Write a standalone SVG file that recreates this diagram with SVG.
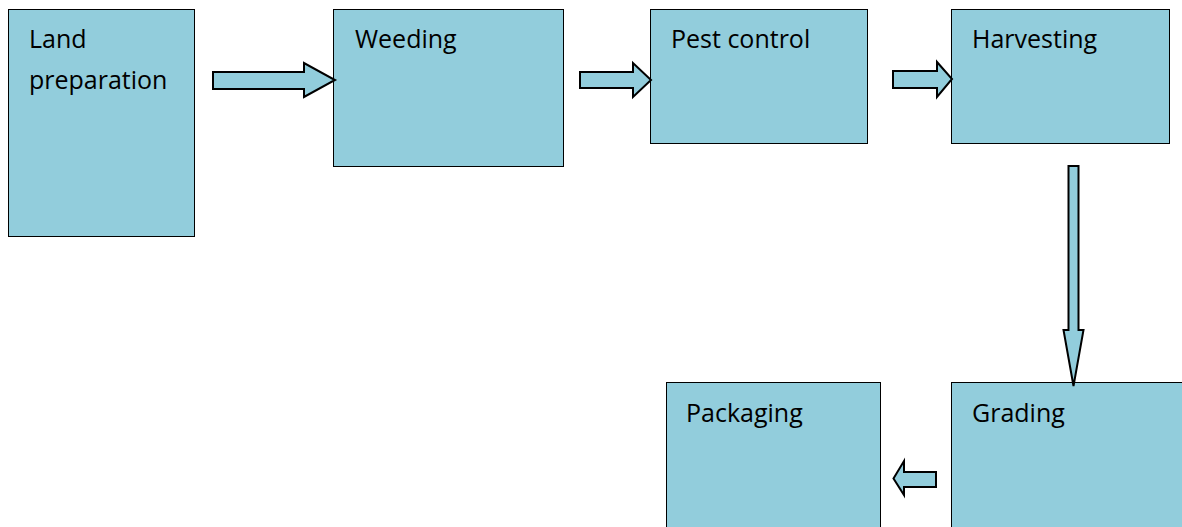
<svg xmlns="http://www.w3.org/2000/svg" width="1182" height="527" viewBox="0 0 1182 527">
  <style>
    .box { fill: #92cddc; stroke: #000; stroke-width: 1; }
    .arrow { fill: #92cddc; stroke: #000; stroke-width: 2; stroke-linejoin: miter; }
    .label { font-family: "Open Sans", "Noto Sans", sans-serif; font-size: 25px; fill: #000; }
  </style>
  <rect width="1182" height="527" fill="#fff"/>

  <!-- process steps -->
  <g id="land-preparation">
    <rect class="box" x="8.5" y="9.5" width="186" height="227"/>
    <text class="label" x="29" y="48">Land</text>
    <text class="label" x="29" y="89">preparation</text>
  </g>
  <g id="weeding">
    <rect class="box" x="333.5" y="9.5" width="230" height="157"/>
    <text class="label" x="355" y="48">Weeding</text>
  </g>
  <g id="pest-control">
    <rect class="box" x="650.5" y="9.5" width="217" height="134"/>
    <text class="label" x="671" y="48">Pest control</text>
  </g>
  <g id="harvesting">
    <rect class="box" x="951.5" y="9.5" width="218" height="134"/>
    <text class="label" x="972" y="48">Harvesting</text>
  </g>
  <g id="grading">
    <rect class="box" x="951.5" y="382.5" width="240" height="160"/>
    <text class="label" x="972" y="422">Grading</text>
  </g>
  <g id="packaging">
    <rect class="box" x="666.5" y="382.5" width="214" height="160"/>
    <text class="label" x="686" y="422">Packaging</text>
  </g>

  <!-- block arrows between steps -->
  <g id="connectors">
    <polygon class="arrow" points="213,72 304,72 304,63 335,80 304,97 304,89 213,89"/>
    <polygon class="arrow" points="580,72 633,72 633,63 651,80 633,97 633,88 580,88"/>
    <polygon class="arrow" points="893,71 937,71 937,62 952,79 937,97 937,88 893,88"/>
    <polygon class="arrow" points="1068.5,166 1078.5,166 1078.5,330 1083.5,330 1073.5,386 1063.5,330 1068.5,330"/>
    <polygon class="arrow" points="936,472 904,472 904,461 893.5,478.5 904,495 904,487 936,487"/>
  </g>
</svg>
